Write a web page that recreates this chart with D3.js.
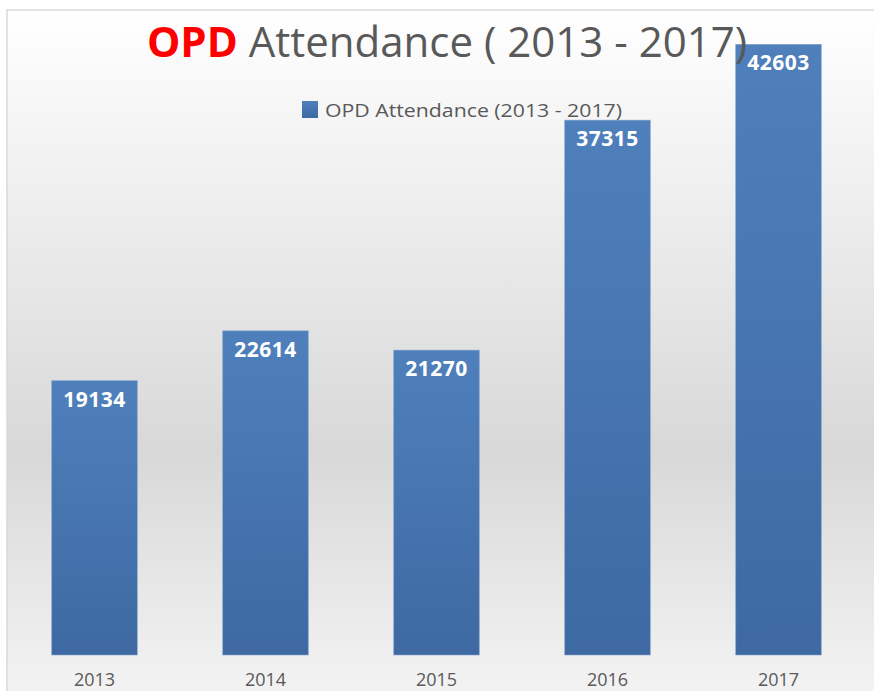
<!DOCTYPE html>
<html>
<head>
<meta charset="utf-8">
<script src="https://cdn.jsdelivr.net/npm/d3@7"></script>
<style>
  body { margin: 0; background: #fff; }
  svg { display: block; }
</style>
</head>
<body>
<svg id="chart"></svg>
<script>
/* DATA */
const years = ["2013", "2014", "2015", "2016", "2017"];
const attendance = [19134, 22614, 21270, 37315, 42603];
const seriesName = "OPD Attendance (2013 - 2017)";

const width = 874, height = 691;
const baseY = 655;

const svg = d3.select("#chart")
  .attr("width", width)
  .attr("height", height);

const defs = svg.append("defs");

// chart area background: white at the top, grey band, lighter at the bottom
const bg = defs.append("linearGradient")
  .attr("id", "bgGrad")
  .attr("x1", 0).attr("y1", 0).attr("x2", 0).attr("y2", 1);
bg.append("stop").attr("offset", "0%").attr("stop-color", "#ffffff");
bg.append("stop").attr("offset", "64%").attr("stop-color", "#d8d8d8");
bg.append("stop").attr("offset", "100%").attr("stop-color", "#f4f4f4");

// bar fill
const barGrad = defs.append("linearGradient")
  .attr("id", "barGrad")
  .attr("x1", 0).attr("y1", 0).attr("x2", 0).attr("y2", 1);
barGrad.append("stop").attr("offset", "0%").attr("stop-color", "#4f80bc");
barGrad.append("stop").attr("offset", "100%").attr("stop-color", "#3e69a2");

svg.append("rect")
  .attr("x", 7)
  .attr("y", 10)
  .attr("width", width)
  .attr("height", height)
  .attr("fill", "url(#bgGrad)")
  .attr("stroke", "#d9d9d9")
  .attr("stroke-width", 1.5);

// scales
const x = d3.scaleBand()
  .domain(years)
  .range([9, 864])
  .paddingInner(0.5)
  .paddingOuter(0.25);

const y = d3.scaleLinear()
  .domain([0, 45000])
  .range([baseY, 10]);

const data = years.map((yr, i) => ({ year: yr, value: attendance[i] }));

// bars
svg.selectAll("rect.bar")
  .data(data)
  .join("rect")
    .attr("class", "bar")
    .attr("x", d => x(d.year))
    .attr("y", d => y(d.value))
    .attr("width", x.bandwidth())
    .attr("height", d => baseY - y(d.value))
    .attr("fill", "url(#barGrad)")
    .attr("stroke", "#7fa0cc")
    .attr("stroke-width", 0.6);

// value labels inside the bars
svg.selectAll("text.val")
  .data(data)
  .join("text")
    .attr("class", "val")
    .attr("x", d => x(d.year) + x.bandwidth() / 2)
    .attr("y", d => y(d.value) + 26)
    .attr("text-anchor", "middle")
    .attr("fill", "#ffffff")
    .style("font-family", "'Open Sans', sans-serif")
    .style("font-weight", "bold")
    .style("font-size", "21px")
    .style("letter-spacing", "0.5px")
    .text(d => d.value);

// x axis labels (sit right at the bottom edge)
const xAxis = svg.append("g")
  .attr("transform", `translate(0,${baseY})`)
  .call(d3.axisBottom(x).tickSize(0).tickPadding(18));
xAxis.select(".domain").remove();
xAxis.selectAll("text")
  .attr("fill", "#595959")
  .style("font-family", "'Open Sans', sans-serif")
  .style("font-size", "18px");

// title
const title = svg.append("text")
  .attr("x", 447)
  .attr("y", 57)
  .attr("text-anchor", "middle")
  .style("font-family", "'Open Sans', sans-serif")
  .style("font-size", "42px");
title.append("tspan")
  .attr("fill", "#ff0000")
  .style("font-weight", "bold")
  .text("OPD");
title.append("tspan")
  .attr("fill", "#595959")
  .text(" Attendance ( 2013 - 2017)");

// legend
const legend = svg.append("g").attr("transform", "translate(302,101)");
legend.append("rect")
  .attr("width", 16)
  .attr("height", 17)
  .attr("fill", "url(#barGrad)");
legend.append("text")
  .attr("x", 23)
  .attr("y", 16)
  .attr("fill", "#595959")
  .attr("textLength", 297)
  .attr("lengthAdjust", "spacingAndGlyphs")
  .style("font-family", "'Open Sans', sans-serif")
  .style("font-size", "18px")
  .text(seriesName);
</script>
</body>
</html>
